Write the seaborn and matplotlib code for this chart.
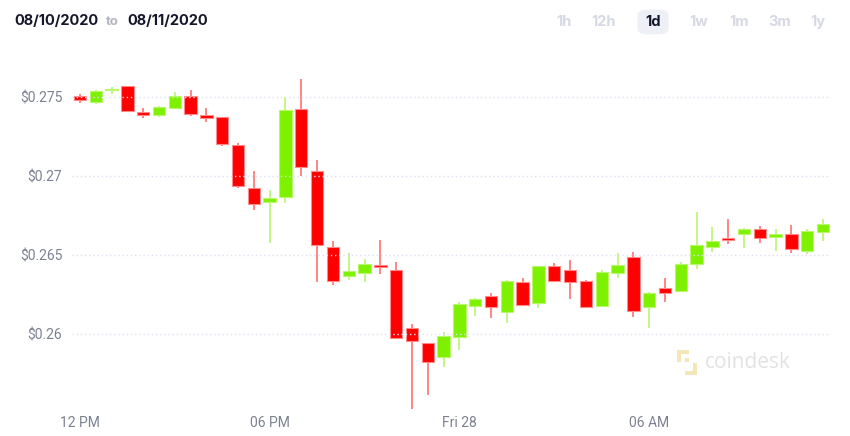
import numpy as np
import pandas as pd
import seaborn as sns
import matplotlib
matplotlib.use("Agg")
import matplotlib.pyplot as plt
from matplotlib.patches import FancyBboxPatch, Rectangle

# ---- data (30-minute candles) ----
opens = [0.27506, 0.27470, 0.27543, 0.27570, 0.27407, 0.27388, 0.27430, 0.27506,
         0.27388, 0.27375, 0.27196, 0.26928, 0.26837, 0.26869, 0.27428, 0.27034,
         0.26551, 0.26371, 0.26386, 0.26435, 0.26405, 0.26042, 0.25943, 0.25854,
         0.25985, 0.26179, 0.26242, 0.26143, 0.26329, 0.26200, 0.26432, 0.26407,
         0.26337, 0.26177, 0.26390, 0.26489, 0.26175, 0.26295, 0.26276, 0.26443,
         0.26553, 0.26606, 0.26637, 0.26665, 0.26618, 0.26635, 0.26529, 0.26649]
highs = [0.27521, 0.27544, 0.27563, 0.27572, 0.27430, 0.27443, 0.27535, 0.27546,
         0.27430, 0.27376, 0.27209, 0.27034, 0.26911, 0.27500, 0.27616, 0.27101,
         0.26590, 0.26516, 0.26477, 0.26597, 0.26458, 0.26065, 0.25945, 0.26013,
         0.26206, 0.26230, 0.26263, 0.26342, 0.26354, 0.26435, 0.26449, 0.26470,
         0.26343, 0.26407, 0.26513, 0.26523, 0.26266, 0.26354, 0.26456, 0.26776,
         0.26677, 0.26728, 0.26671, 0.26685, 0.26665, 0.26690, 0.26665, 0.26728]
lows = [0.27466, 0.27456, 0.27523, 0.27405, 0.27371, 0.27375, 0.27426, 0.27384,
        0.27346, 0.27194, 0.26924, 0.26789, 0.26580, 0.26829, 0.27004, 0.26329,
        0.26310, 0.26342, 0.26333, 0.26380, 0.25972, 0.25529, 0.25618, 0.25795,
        0.25900, 0.26116, 0.26103, 0.26073, 0.26181, 0.26165, 0.26329, 0.26222,
        0.26169, 0.26175, 0.26354, 0.26110, 0.26042, 0.26206, 0.26276, 0.26415,
        0.26523, 0.26570, 0.26548, 0.26580, 0.26529, 0.26515, 0.26508, 0.26592]
closes = [0.27483, 0.27538, 0.27545, 0.27411, 0.27388, 0.27437, 0.27508, 0.27392,
          0.27372, 0.27203, 0.26939, 0.26827, 0.26861, 0.27418, 0.27061, 0.26563,
          0.26337, 0.26401, 0.26443, 0.26429, 0.25978, 0.25960, 0.25827, 0.25991,
          0.26194, 0.26225, 0.26173, 0.26335, 0.26187, 0.26430, 0.26339, 0.26333,
          0.26175, 0.26396, 0.26437, 0.26147, 0.26261, 0.26261, 0.26447, 0.26565,
          0.26591, 0.26597, 0.26665, 0.26611, 0.26637, 0.26538, 0.26656, 0.26698]

x_tick_pos = [0, 12, 24, 36]
x_tick_labels = ["12 PM", "06 PM", "Fri 28", "06 AM"]
y_ticks = [0.26, 0.265, 0.27, 0.275]
y_tick_labels = ["$0.26", "$0.265", "$0.27", "$0.275"]
ranges = ["1h", "12h", "1d", "1w", "1m", "3m", "1y"]
active_range = "1d"
date_from = "08/10/2020"
date_to = "08/11/2020"

df = pd.DataFrame({"open": opens, "high": highs, "low": lows, "close": closes})
df["idx"] = np.arange(len(df))
df["up"] = df["close"] >= df["open"]

sns.set_theme(style="white")
plt.rcParams["font.family"] = ["Liberation Sans Narrow", "Roboto", "DejaVu Sans"]

RED = "#ff0000"
GREEN = "#7ef100"
RED_EDGE = "#ff8a8a"
GREEN_EDGE = "#b8f76a"

fig = plt.figure(figsize=(8.5, 4.36), dpi=100)
ax = fig.add_axes([72 / 850, 1 - 410 / 436, (831 - 72) / 850, 350 / 436])

# wicks
for up, sub in df.groupby("up"):
    col = GREEN if up else RED
    ax.vlines(sub["idx"], sub["low"], sub["high"], color=col, alpha=0.6,
              linewidth=1.1, zorder=2)

# bodies
min_h = 0.00012
bottoms = np.minimum(df["open"], df["close"])
heights = np.maximum(np.abs(df["close"] - df["open"]), min_h)
colors = [GREEN if u else RED for u in df["up"]]
edges = [GREEN_EDGE if u else RED_EDGE for u in df["up"]]
ax.bar(df["idx"], heights, bottom=bottoms, width=0.78, color=colors,
       edgecolor=edges, linewidth=0.8, zorder=3)

# gridlines on top
for yv in y_ticks:
    ax.axhline(yv, color="#dbe1f0", linestyle=(0, (1, 2)), linewidth=1.0, zorder=4)

ax.set_xlim(-0.5, 47.5)
ax.set_ylim(0.25521, 0.27736)
ax.set_xticks(x_tick_pos)
ax.set_xticklabels(x_tick_labels)
ax.set_yticks(y_ticks)
ax.set_yticklabels(y_tick_labels)
ax.tick_params(axis="both", length=0, labelsize=10, labelcolor="#7c8191")
ax.tick_params(axis="y", pad=7)
ax.tick_params(axis="x", pad=4)
sns.despine(ax=ax, left=True, bottom=True)
ax.grid(False)
ax.set_facecolor("white")

# header
hfont = ["Inter", "DejaVu Sans"]
fig.text(14 / 850, 1 - 21 / 436, date_from, fontsize=10.5, fontweight="bold",
         color="#16162b", va="center", ha="left", family=hfont)
fig.text(112.5 / 850, 1 - 22 / 436, "to", fontsize=9.5, fontweight="bold",
         color="#b3b6c2", va="center", ha="center", family=hfont)
fig.text(127 / 850, 1 - 21 / 436, date_to, fontsize=10.5, fontweight="bold",
         color="#16162b", va="center", ha="left", family=hfont)

btn_x = [564, 604, 653, 699, 739, 780, 818]
for lab, bx in zip(ranges, btn_x):
    if lab == active_range:
        fig.patches.append(FancyBboxPatch(((bx - 13) / 850, 1 - 33 / 436),
                                          26 / 850, 22 / 436,
                                          boxstyle="round,pad=0.003,rounding_size=0.012",
                                          transform=fig.transFigure,
                                          facecolor="#eef0f7", edgecolor="none"))
        c = "#14142b"
    else:
        c = "#d6d9e4"
    fig.text(bx / 850, 1 - 22 / 436, lab, fontsize=10.5, fontweight="bold",
             color=c, va="center", ha="center", family=hfont)

# watermark
wm = "#f5e6b8"
for (rx, ry, rw, rh) in [(677, 350, 4, 12), (677, 350, 12, 4), (693, 363, 4, 12),
                         (685, 371, 12, 4), (685, 358, 4, 4)]:
    fig.patches.append(Rectangle((rx / 850, 1 - (ry + rh) / 436), rw / 850, rh / 436,
                                 transform=fig.transFigure, facecolor=wm,
                                 edgecolor="none"))
fig.text(748 / 850, 1 - 362 / 436, "coindesk", fontsize=15, color="#e2e2e2",
         va="center", ha="center", family=["Open Sans", "DejaVu Sans"])

fig.savefig("out.png", dpi=100, facecolor="white")
